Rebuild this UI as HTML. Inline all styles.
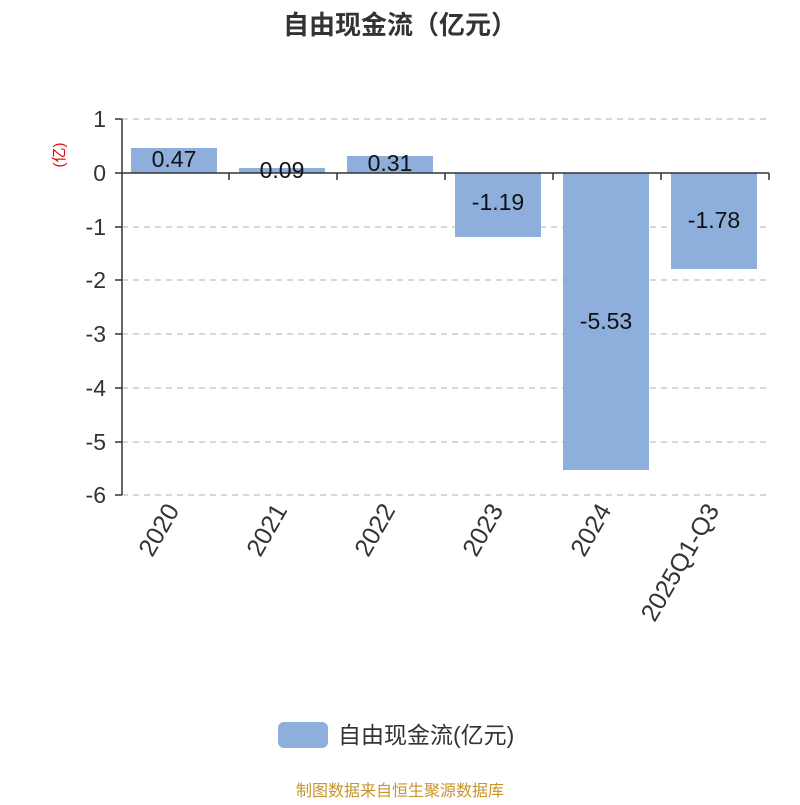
<!DOCTYPE html>
<html><head><meta charset="utf-8"><style>
body{margin:0;background:#fff;}
svg text{font-family:"Liberation Sans","Noto Sans CJK SC",sans-serif;}
</style></head><body>
<svg width="800" height="800" xmlns="http://www.w3.org/2000/svg">
<text x="400" y="34" text-anchor="middle" font-size="26" font-weight="bold" fill="#333">自由现金流（亿元）</text>
<g stroke="#ccc" stroke-dasharray="6,5" stroke-width="1.5">
<line x1="122" y1="119" x2="769" y2="119"/>
<line x1="122" y1="227" x2="769" y2="227"/>
<line x1="122" y1="280" x2="769" y2="280"/>
<line x1="122" y1="334" x2="769" y2="334"/>
<line x1="122" y1="388" x2="769" y2="388"/>
<line x1="122" y1="442" x2="769" y2="442"/>
<line x1="122" y1="495" x2="769" y2="495"/>
</g>
<g fill="#8eaedb">
<rect x="131" y="148" width="86" height="25"/>
<rect x="239" y="168" width="86" height="5"/>
<rect x="347" y="156" width="86" height="17"/>
<rect x="455" y="173" width="86" height="64"/>
<rect x="563" y="173" width="86" height="297"/>
<rect x="671" y="173" width="86" height="96"/>
</g>
<g stroke="#333" stroke-width="1.5">
<line x1="122" y1="119" x2="122" y2="495"/>
<line x1="122" y1="173" x2="769" y2="173"/>
<line x1="115" y1="119" x2="122" y2="119"/>
<line x1="115" y1="173" x2="122" y2="173"/>
<line x1="115" y1="227" x2="122" y2="227"/>
<line x1="115" y1="280" x2="122" y2="280"/>
<line x1="115" y1="334" x2="122" y2="334"/>
<line x1="115" y1="388" x2="122" y2="388"/>
<line x1="115" y1="442" x2="122" y2="442"/>
<line x1="115" y1="495" x2="122" y2="495"/>
<line x1="229" y1="173" x2="229" y2="180"/>
<line x1="337" y1="173" x2="337" y2="180"/>
<line x1="445" y1="173" x2="445" y2="180"/>
<line x1="553" y1="173" x2="553" y2="180"/>
<line x1="661" y1="173" x2="661" y2="180"/>
<line x1="769" y1="173" x2="769" y2="180"/>
</g>
<g font-size="23" fill="#333" text-anchor="end">
<text x="106" y="127">1</text>
<text x="106" y="181">0</text>
<text x="106" y="235">-1</text>
<text x="106" y="288">-2</text>
<text x="106" y="342">-3</text>
<text x="106" y="396">-4</text>
<text x="106" y="450">-5</text>
<text x="106" y="503">-6</text>
</g>
<text x="0" y="0" font-size="15" fill="#e00" transform="translate(64,155) rotate(-90)" text-anchor="middle">(亿)</text>
<g font-size="23" fill="#111" text-anchor="middle">
<text x="174" y="167">0.47</text>
<text x="282" y="178">0.09</text>
<text x="390" y="171">0.31</text>
<text x="498" y="210">-1.19</text>
<text x="606" y="329">-5.53</text>
<text x="714" y="228">-1.78</text>
</g>
<g font-size="25" fill="#333" text-anchor="end">
<text transform="translate(180,510) rotate(-60)">2020</text>
<text transform="translate(288,510) rotate(-60)">2021</text>
<text transform="translate(396,510) rotate(-60)">2022</text>
<text transform="translate(504,510) rotate(-60)">2023</text>
<text transform="translate(612,510) rotate(-60)">2024</text>
<text transform="translate(720,510) rotate(-60)">2025Q1-Q3</text>
</g>
<rect x="278" y="722" width="50" height="26" rx="6" fill="#8eaedb"/>
<text x="338" y="743" font-size="23" fill="#333">自由现金流(亿元)</text>
<text x="400" y="796" font-size="16" fill="#c8952b" text-anchor="middle">制图数据来自恒生聚源数据库</text>
</svg>
</body></html>
